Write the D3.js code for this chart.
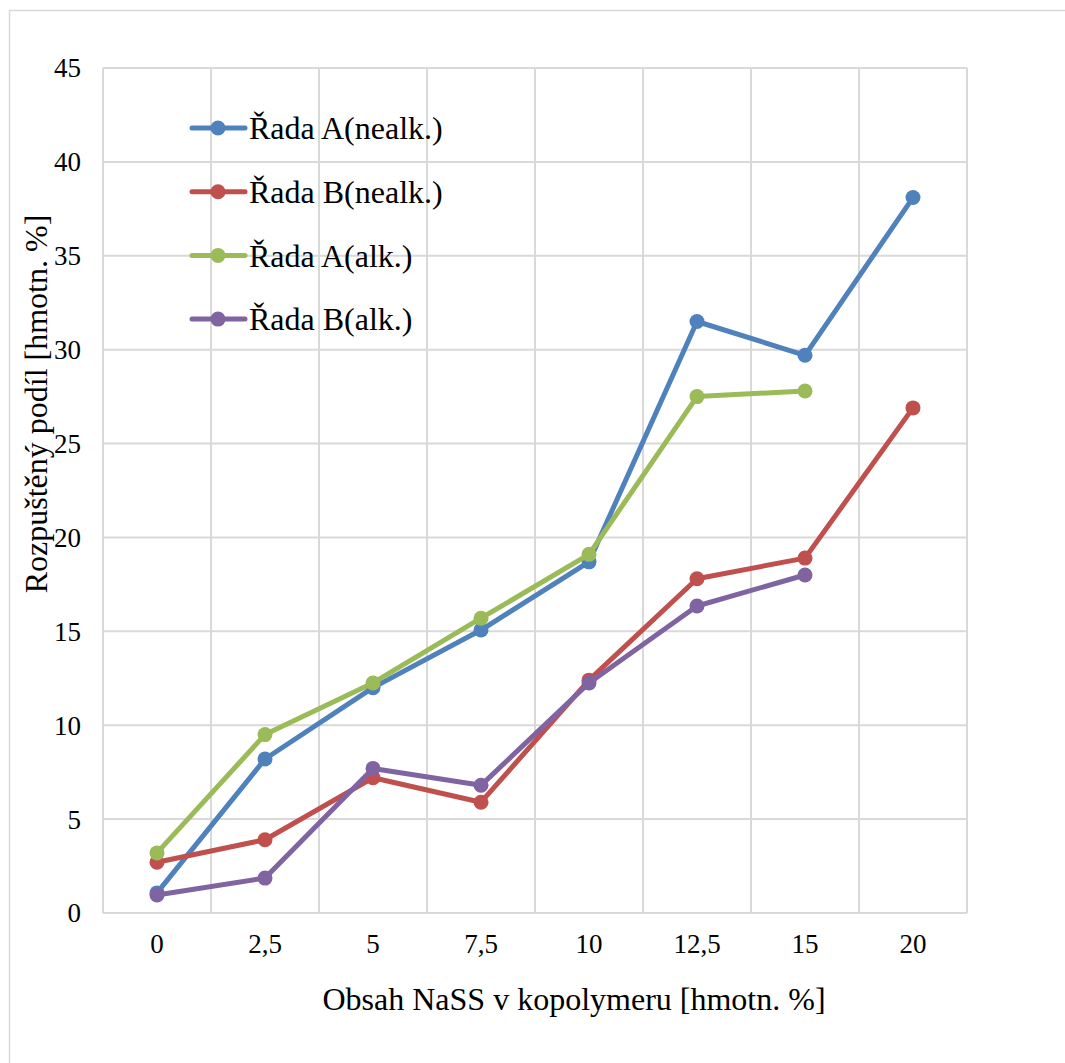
<!DOCTYPE html>
<html>
<head>
<meta charset="utf-8">
<script src="https://cdn.jsdelivr.net/npm/d3@7"></script>
<style>
  html, body { margin: 0; padding: 0; background: #fff; }
  svg { display: block; }
</style>
</head>
<body>
<svg id="chart" width="1065" height="1063" font-family="'Liberation Serif', 'Times New Roman', Times, serif"></svg>
<script>
// NaSS content in the copolymer (category axis)
const categories = ["0", "2,5", "5", "7,5", "10", "12,5", "15", "20"];

// Dissolved fraction [wt. %] for each series; null = not measured
const radaAnealk = [1.07, 8.2, 12.0, 15.07, 18.7, 31.5, 29.7, 38.1];
const radaBnealk = [2.7, 3.9, 7.2, 5.9, 12.4, 17.8, 18.9, 26.9];
const radaAalk   = [3.2, 9.5, 12.25, 15.7, 19.1, 27.5, 27.8, null];
const radaBalk   = [0.96, 1.86, 7.7, 6.8, 12.25, 16.35, 18.0, null];

const seriesNames = ["Řada A(nealk.)", "Řada B(nealk.)", "Řada A(alk.)", "Řada B(alk.)"];
const seriesColors = ["#4F81BD", "#C0504D", "#9BBB59", "#8064A2"];
const yTicks = [0, 5, 10, 15, 20, 25, 30, 35, 40, 45];

const seriesValues = [radaAnealk, radaBnealk, radaAalk, radaBalk];
const series = seriesNames.map((name, i) => ({
  name, color: seriesColors[i],
  points: seriesValues[i].map((v, j) => ({ cat: categories[j], v })).filter(d => d.v !== null)
}));

const svg = d3.select("#chart");
const plot = { left: 103, right: 967, top: 68, bottom: 913 };

// Chart frame
svg.append("path")
  .attr("d", "M9.5,1063 V10.5 H1065")
  .attr("fill", "none").attr("stroke", "#d9d9d9").attr("stroke-width", 1.5);

const x = d3.scaleBand().domain(categories).range([plot.left, plot.right]).padding(0);
const y = d3.scaleLinear().domain([0, 45]).range([plot.bottom, plot.top]);

// Horizontal gridlines
svg.append("g").selectAll("line").data(yTicks).join("line")
  .attr("x1", plot.left).attr("x2", plot.right)
  .attr("y1", d => y(d)).attr("y2", d => y(d))
  .attr("stroke", "#d9d9d9").attr("stroke-width", 2);

// Vertical gridlines on category boundaries
const bounds = categories.map(c => x(c)).concat([plot.right]);
svg.append("g").selectAll("line").data(bounds).join("line")
  .attr("x1", d => d).attr("x2", d => d)
  .attr("y1", plot.top).attr("y2", plot.bottom)
  .attr("stroke", "#d9d9d9").attr("stroke-width", 2);

// Y tick labels
svg.append("g").selectAll("text").data(yTicks).join("text")
  .attr("x", 81).attr("y", d => y(d))
  .attr("dy", "0.35em")
  .attr("text-anchor", "end")
  .attr("font-size", 27)
  .text(d => d);

// X tick labels
svg.append("g").selectAll("text").data(categories).join("text")
  .attr("x", d => x(d) + x.bandwidth() / 2).attr("y", 953)
  .attr("text-anchor", "middle")
  .attr("font-size", 27)
  .text(d => d);

// Axis titles
svg.append("text")
  .attr("x", 574).attr("y", 1010)
  .attr("text-anchor", "middle")
  .attr("font-size", 32)
  .text("Obsah NaSS v kopolymeru [hmotn. %]");

svg.append("text")
  .attr("transform", "translate(47,404) rotate(-90)")
  .attr("text-anchor", "middle")
  .attr("font-size", 32)
  .text("Rozpuštěný podíl [hmotn. %]");

// Series lines and markers
const line = d3.line().x(d => x(d.cat) + x.bandwidth() / 2).y(d => y(d.v));
const g = svg.append("g");
series.forEach(s => {
  g.append("path").datum(s.points)
    .attr("d", line)
    .attr("fill", "none").attr("stroke", s.color)
    .attr("stroke-width", 5).attr("stroke-linejoin", "round").attr("stroke-linecap", "round");
  g.append("g").selectAll("circle").data(s.points).join("circle")
    .attr("cx", d => x(d.cat) + x.bandwidth() / 2).attr("cy", d => y(d.v))
    .attr("r", 7.5).attr("fill", s.color);
});

// Legend
const legend = svg.append("g");
series.forEach((s, i) => {
  const ly = 128 + i * 63.7;
  legend.append("line").attr("x1", 192).attr("x2", 245).attr("y1", ly).attr("y2", ly)
    .attr("stroke", s.color).attr("stroke-width", 5).attr("stroke-linecap", "round");
  legend.append("circle").attr("cx", 218).attr("cy", ly).attr("r", 7.5).attr("fill", s.color);
  legend.append("text").attr("x", 249).attr("y", ly).attr("dy", "0.35em")
    .attr("font-size", 32).text(s.name);
});
</script>
</body>
</html>
